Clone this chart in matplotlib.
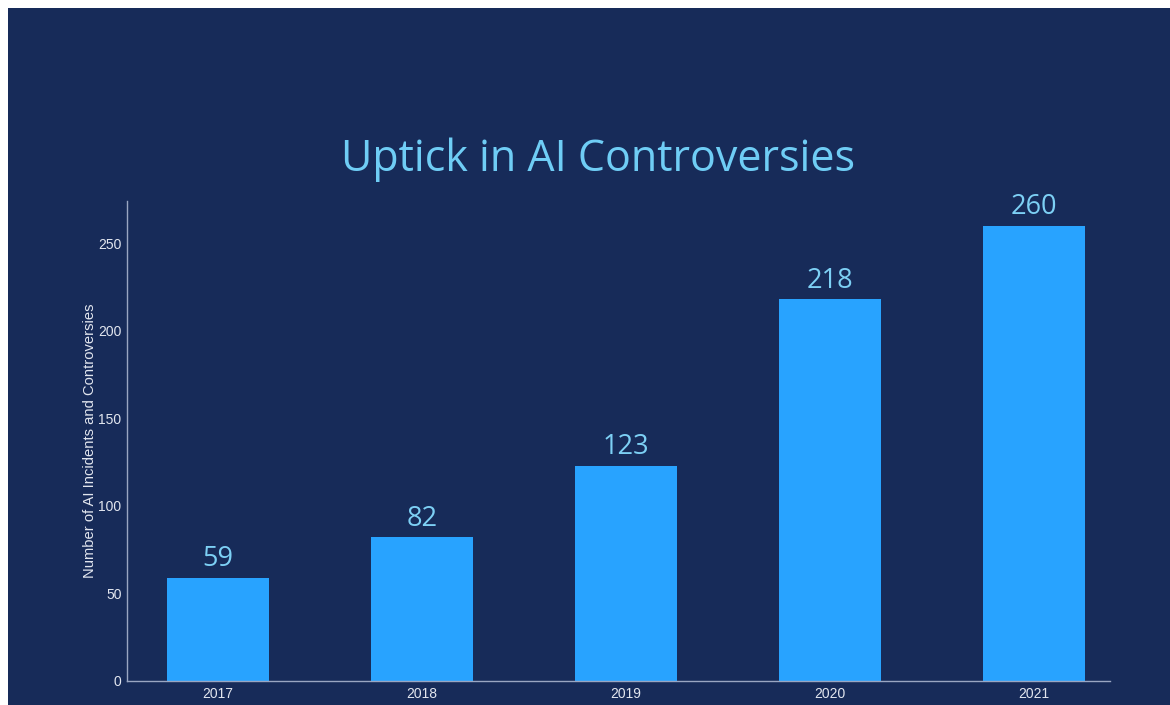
import matplotlib
matplotlib.use("Agg")
import matplotlib.pyplot as plt
from matplotlib.patches import Rectangle

years = ['2017', '2018', '2019', '2020', '2021']
incidents = [59, 82, 123, 218, 260]

bg = '#172b59'
bar_color = '#28a3ff'
label_color = '#7dd0f5'

plt.rcParams['font.family'] = ['Liberation Sans', 'DejaVu Sans']

fig = plt.figure(figsize=(11.7, 7.05), dpi=100)
fig.patch.set_facecolor('white')
# dark panel, leaving thin white strip at left and top
fig.patches.append(Rectangle((8 / 1170, 0), 1, 1 - 8 / 705, transform=fig.transFigure,
                             facecolor=bg, edgecolor='none', zorder=-1))

ax = fig.add_axes([127 / 1170, 24 / 705, (1110 - 127) / 1170, (681 - 201) / 705])
ax.set_facecolor(bg)

x = list(range(len(years)))
bars = ax.bar(x, incidents, width=0.5, color=bar_color)
for xi, v in zip(x, incidents):
    ax.text(xi, v + 2.5, str(v), ha='center', va='bottom', fontsize=19.5,
            color=label_color, family='Open Sans')

ax.set_xlim(-0.446, 4.373)
ax.set_ylim(0, 274)
ax.set_xticks(x)
ax.set_xticklabels(years)
ax.set_yticks([0, 50, 100, 150, 200, 250])
ax.tick_params(length=0, colors='#e2e6ef', labelsize=10, pad=4)
ax.set_ylabel('Number of AI Incidents and Controversies', color='#e2e6ef', fontsize=10.6, labelpad=1)

for s in ['top', 'right']:
    ax.spines[s].set_visible(False)
for s in ['left', 'bottom']:
    ax.spines[s].set_color('#9aa6c2')
    ax.spines[s].set_linewidth(1)

fig.text(598 / 1170, 1 - 160 / 705, 'Uptick in AI Controversies', ha='center', va='center',
         fontsize=31, color='#6fcdf5', family='Open Sans')

fig.savefig('out.png', dpi=100, facecolor=fig.get_facecolor())
